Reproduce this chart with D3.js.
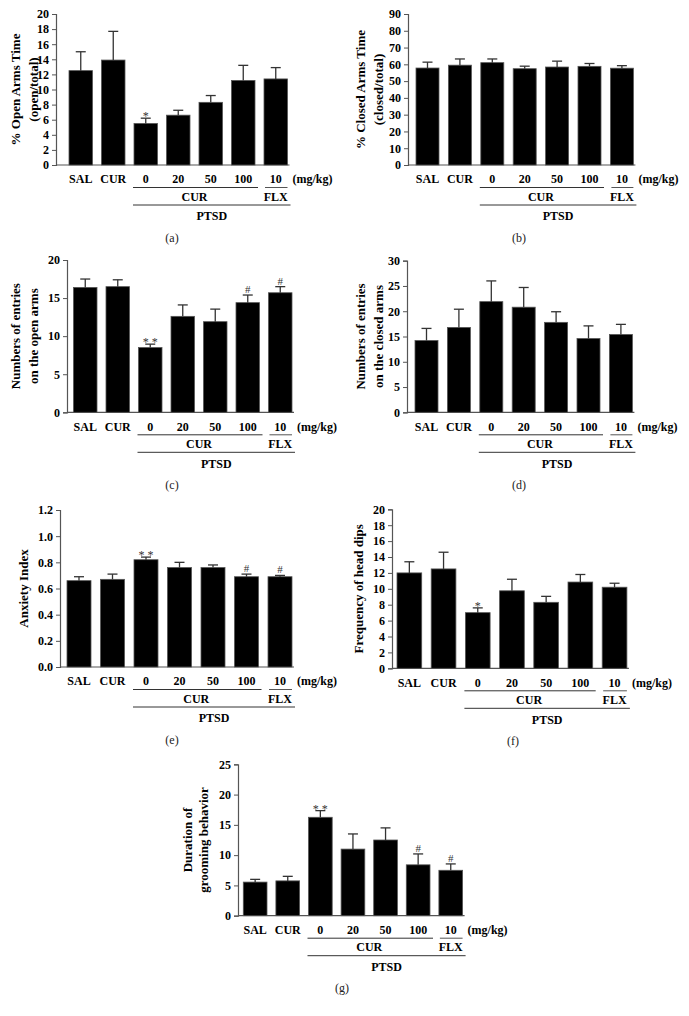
<!DOCTYPE html>
<html>
<head>
<meta charset="utf-8">
<script src="https://cdn.jsdelivr.net/npm/d3@7"></script>
<style>
  html, body { margin: 0; padding: 0; background: #fff; }
  svg { display: block; }
  text { font-family: "Liberation Serif", "Times New Roman", serif; }
</style>
</head>
<body>
<svg id="chart" width="689" height="1016"></svg>
<script>
// ---------- DATA ----------
const categories = ["SAL", "CUR", "0", "20", "50", "100", "10"];

const openArmsTime      = [12.5, 13.9, 5.5, 6.6, 8.3, 11.2, 11.4];
const openArmsTimeSem   = [2.5, 3.8, 0.7, 0.65, 0.9, 2.0, 1.5];

const closedArmsTime    = [57.8, 59.5, 61.0, 57.4, 58.4, 58.8, 57.7];
const closedArmsTimeSem = [3.5, 3.7, 2.2, 1.5, 3.5, 1.7, 1.5];

const openEntries       = [16.4, 16.5, 8.5, 12.6, 11.9, 14.4, 15.7];
const openEntriesSem    = [1.1, 0.9, 0.45, 1.5, 1.65, 1.0, 0.8];

const closedEntries     = [14.2, 16.8, 21.9, 20.8, 17.8, 14.6, 15.4];
const closedEntriesSem  = [2.4, 3.6, 4.1, 3.9, 2.1, 2.5, 2.0];

const anxietyIndex      = [0.66, 0.67, 0.82, 0.76, 0.76, 0.69, 0.69];
const anxietyIndexSem   = [0.03, 0.04, 0.02, 0.04, 0.02, 0.02, 0.01];

const headDips          = [12.0, 12.5, 7.0, 9.75, 8.3, 10.85, 10.2];
const headDipsSem       = [1.4, 2.1, 0.6, 1.45, 0.75, 0.95, 0.5];

const grooming          = [5.55, 5.75, 16.25, 11.0, 12.5, 8.4, 7.5];
const groomingSem       = [0.45, 0.75, 1.1, 2.5, 2.0, 1.8, 1.05];

const marksNone   = ["", "", "", "", "", "", ""];
const marksStar   = ["", "", "*", "", "", "", ""];
const marksDouble = ["", "", "* *", "", "", "#", "#"];

const unitLabel  = "(mg/kg)";
const curLabel   = "CUR";
const flxLabel   = "FLX";
const ptsdLabel  = "PTSD";

// ---------- LAYOUT ----------
const panels = [
  { letter: "(a)", values: openArmsTime, sem: openArmsTimeSem, marks: marksStar,
    ylabel: ["% Open Arms Time", "(open/total)"], labelX: [15, 33],
    max: 20, step: 2, fmt: d3.format("d"),
    axisX: 56, barX: 69, barStep: 32.5, barW: 23.5, yTop: 14, y0: 165, letterX: 172 },
  { letter: "(b)", values: closedArmsTime, sem: closedArmsTimeSem, marks: marksNone,
    ylabel: ["% Closed Arms Time", "(closed/total)"], labelX: [360, 378],
    max: 90, step: 10, fmt: d3.format("d"),
    axisX: 408, barX: 416, barStep: 32.4, barW: 23, yTop: 14, y0: 165, letterX: 519 },
  { letter: "(c)", values: openEntries, sem: openEntriesSem, marks: marksDouble,
    ylabel: ["Numbers of entries", "on the open arms"], labelX: [15, 33],
    max: 20, step: 5, fmt: d3.format("d"),
    axisX: 67, barX: 73.5, barStep: 32.5, barW: 23.5, yTop: 260, y0: 412.3, letterX: 172 },
  { letter: "(d)", values: closedEntries, sem: closedEntriesSem, marks: marksNone,
    ylabel: ["Numbers of entries", "on the closed arms"], labelX: [360, 378],
    max: 30, step: 5, fmt: d3.format("d"),
    axisX: 407, barX: 415, barStep: 32.4, barW: 23, yTop: 260.7, y0: 412.3, letterX: 519 },
  { letter: "(e)", values: anxietyIndex, sem: anxietyIndexSem, marks: marksDouble,
    ylabel: ["Anxiety Index"], labelX: [23],
    max: 1.2, step: 0.2, fmt: d3.format(".1f"),
    axisX: 60, barX: 67, barStep: 33.5, barW: 24, yTop: 510, y0: 667, letterX: 172 },
  { letter: "(f)", values: headDips, sem: headDipsSem, marks: marksStar,
    ylabel: ["Frequency of head dips"], labelX: [358],
    max: 20, step: 2, fmt: d3.format("d"),
    axisX: 392, barX: 397, barStep: 34.2, barW: 24.7, yTop: 509.3, y0: 668.3, letterX: 513 },
  { letter: "(g)", values: grooming, sem: groomingSem, marks: marksDouble,
    ylabel: ["Duration of", "grooming behavior"], labelX: [187, 203],
    max: 25, step: 5, fmt: d3.format("d"),
    axisX: 238, barX: 243.3, barStep: 32.6, barW: 23.7, yTop: 764.3, y0: 915.7, letterX: 342 }
];

const svg = d3.select("#chart");
const axisColor = "#555";
const lineColor = "#333";

panels.forEach(p => {
  const g = svg.append("g");
  const x = d3.scaleBand()
    .domain(categories)
    .range([p.barX, p.barX + 6 * p.barStep + p.barW])
    .paddingInner(1 - p.barW / p.barStep)
    .paddingOuter(0);
  const y = d3.scaleLinear().domain([0, p.max]).range([p.y0, p.yTop]);
  const bw = x.bandwidth();
  const lastRight = x(categories[6]) + bw;

  // y axis
  const tickVals = d3.range(0, p.max + p.step / 2, p.step);
  const yAxis = d3.axisLeft(y).tickValues(tickVals).tickFormat(p.fmt).tickSize(4).tickPadding(3);
  const ya = g.append("g").attr("transform", `translate(${p.axisX},0)`).call(yAxis);
  ya.select(".domain").attr("stroke", axisColor).attr("stroke-width", 1.2);
  ya.selectAll(".tick line").attr("stroke", axisColor).attr("stroke-width", 1);
  ya.selectAll(".tick text")
    .attr("font-family", "Liberation Serif, serif")
    .attr("font-size", 12).attr("font-weight", "bold").attr("fill", "#000");

  // x baseline
  g.append("line")
    .attr("x1", p.axisX).attr("x2", lastRight + 2)
    .attr("y1", y(0)).attr("y2", y(0))
    .attr("stroke", axisColor).attr("stroke-width", 1.2);

  // bars
  g.selectAll("rect.bar").data(categories).enter().append("rect")
    .attr("class", "bar")
    .attr("x", d => x(d))
    .attr("width", bw)
    .attr("y", (d, i) => y(p.values[i]))
    .attr("height", (d, i) => y(0) - y(p.values[i]))
    .attr("fill", "#000").attr("stroke", "#555").attr("stroke-width", 0.8);

  // error bars (upper)
  categories.forEach((c, i) => {
    const cx = x(c) + bw / 2;
    const top = y(p.values[i] + p.sem[i]);
    g.append("line").attr("x1", cx).attr("x2", cx)
      .attr("y1", y(p.values[i])).attr("y2", top)
      .attr("stroke", lineColor).attr("stroke-width", 1.3);
    g.append("line").attr("x1", cx - 5).attr("x2", cx + 5)
      .attr("y1", top).attr("y2", top)
      .attr("stroke", lineColor).attr("stroke-width", 1.3);
    const m = p.marks[i];
    if (m) {
      g.append("text").attr("x", cx)
        .attr("y", m === "#" ? top - 2 : top + 2)
        .attr("text-anchor", "middle")
        .attr("font-size", m === "#" ? 11 : 12)
        .attr("fill", "#333")
        .text(m);
    }
  });

  // x tick labels
  const labY = p.y0 + 14;
  g.selectAll("text.xl").data(categories).enter().append("text")
    .attr("class", "xl")
    .attr("x", d => x(d) + bw / 2).attr("y", labY)
    .attr("dy", "0.35em").attr("text-anchor", "middle")
    .attr("font-size", 12).attr("font-weight", "bold")
    .text(d => d);
  g.append("text").attr("x", lastRight + 5).attr("y", labY).attr("dy", "0.35em")
    .attr("font-size", 12).attr("font-weight", "bold").text(unitLabel);

  // group lines
  const x0L = x(categories[2]) - 1;
  const x100R = x(categories[5]) + bw + 3;
  const x10L = x(categories[6]) + 1;
  const line1 = p.y0 + 22.5, line2 = p.y0 + 40;
  g.append("line").attr("x1", x0L).attr("x2", x100R).attr("y1", line1).attr("y2", line1)
    .attr("stroke", lineColor).attr("stroke-width", 1);
  g.append("line").attr("x1", x10L).attr("x2", lastRight).attr("y1", line1).attr("y2", line1)
    .attr("stroke", "#555").attr("stroke-width", 1);
  g.append("line").attr("x1", x0L).attr("x2", lastRight + 3).attr("y1", line2).attr("y2", line2)
    .attr("stroke", lineColor).attr("stroke-width", 1);

  const curX = (x(categories[2]) + x(categories[5]) + bw) / 2;
  g.append("text").attr("x", curX).attr("y", p.y0 + 31.5).attr("dy", "0.35em")
    .attr("text-anchor", "middle").attr("font-size", 12).attr("font-weight", "bold").text(curLabel);
  g.append("text").attr("x", x(categories[6]) + bw / 2).attr("y", p.y0 + 31.5).attr("dy", "0.35em")
    .attr("text-anchor", "middle").attr("font-size", 12).attr("font-weight", "bold").text(flxLabel);
  g.append("text").attr("x", (x0L + lastRight + 3) / 2).attr("y", p.y0 + 51).attr("dy", "0.35em")
    .attr("text-anchor", "middle").attr("font-size", 12).attr("font-weight", "bold").text(ptsdLabel);

  // panel letter
  g.append("text").attr("x", p.letterX).attr("y", p.y0 + 72.5).attr("dy", "0.35em")
    .attr("text-anchor", "middle").attr("font-size", 12).attr("fill", "#222").text(p.letter);

  // y label
  const cy = (p.y0 + p.yTop) / 2;
  p.ylabel.forEach((t, k) => {
    g.append("text")
      .attr("transform", `translate(${p.labelX[k]},${cy}) rotate(-90)`)
      .attr("text-anchor", "middle").attr("dy", "0.35em")
      .attr("font-size", 13).attr("font-weight", "bold").text(t);
  });
});
</script>
</body>
</html>
